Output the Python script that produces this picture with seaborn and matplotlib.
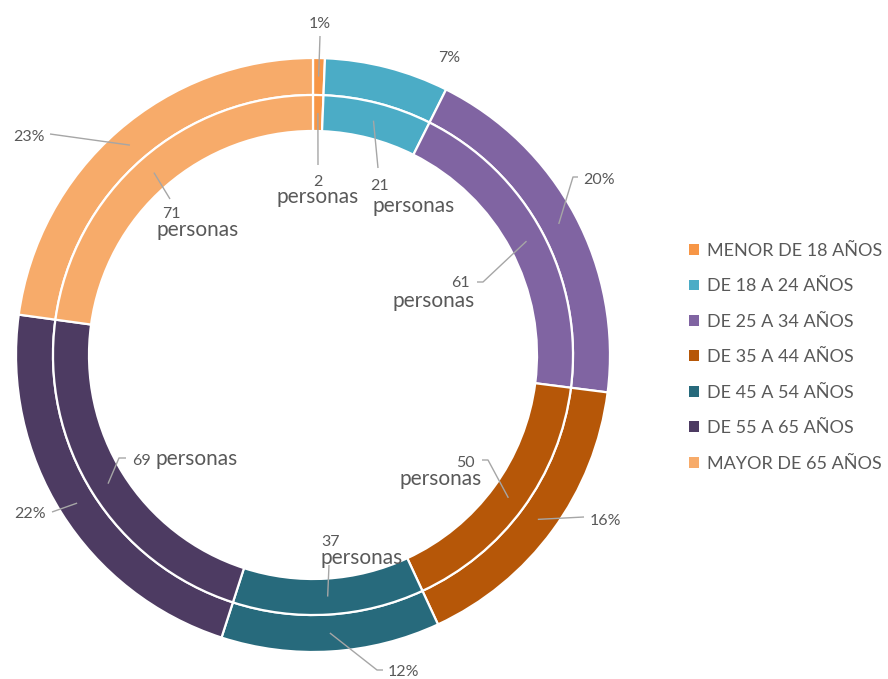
import matplotlib
matplotlib.use("Agg")
import matplotlib.pyplot as plt
import matplotlib.patches as mpatches
import numpy as np
import seaborn as sns

# Data
categories = ["MENOR DE 18 AÑOS", "DE 18 A 24 AÑOS", "DE 25 A 34 AÑOS",
              "DE 35 A 44 AÑOS", "DE 45 A 54 AÑOS", "DE 55 A 65 AÑOS",
              "MAYOR DE 65 AÑOS"]
personas = [2, 21, 61, 50, 37, 69, 71]
hex_colors = ["#F79646", "#4BACC6", "#8064A2", "#B65708",
              "#276A7C", "#4D3B62", "#F7AB6A"]

sns.set_theme(style="white")
plt.rcParams["font.family"] = ["Lato", "DejaVu Sans"]
palette = sns.color_palette(hex_colors)

TEXT = "#595959"
LINE = "#A6A6A6"
W, H = 888, 679


def P(x, y):
    """Top-down pixel position -> axes coordinates (y up)."""
    return (x, H - y)


fig = plt.figure(figsize=(W / 100, H / 100), dpi=100)
ax = fig.add_axes([0, 0, 1, 1])

center = P(313, 355)
outer, _ = ax.pie(personas, radius=297, center=center, startangle=90,
                  counterclock=False, colors=palette,
                  wedgeprops=dict(width=37, edgecolor="white", linewidth=1.6))
inner, _ = ax.pie(personas, radius=260, center=center, startangle=90,
                  counterclock=False, colors=palette,
                  wedgeprops=dict(width=36, edgecolor="white", linewidth=1.6))
ax.set_xlim(0, W)
ax.set_ylim(0, H)
ax.set_aspect("auto")
ax.axis("off")


def anchor(w):
    ang = np.deg2rad((w.theta1 + w.theta2) / 2)
    r = w.r - w.width / 2
    return (w.center[0] + r * np.cos(ang), w.center[1] + r * np.sin(ang))


def leader(w, path):
    pts = [anchor(w)] + [P(*p) for p in path]
    xs, ys = zip(*pts)
    ax.plot(xs, ys, color=LINE, lw=1.0, solid_capstyle="butt", zorder=3)


total = sum(personas)

# Percentage labels on the outer ring: (text pos, ha, leader path from ring)
pct_layout = [
    ((320, 28), "center", [(320, 36)]),
    ((449, 62), "center", None),
    ((583, 184), "left", [(573, 177), (578, 177)]),
    ((590, 525), "left", [(584, 517)]),
    ((388, 676), "left", [(377, 670), (383, 670)]),
    ((46, 518), "right", [(52, 512)]),
    ((45, 141), "right", [(50, 134)]),
]
for w, v, (pos, ha, path) in zip(outer, personas, pct_layout):
    ax.text(*P(*pos), f"{round(100 * v / total)}%", ha=ha, va="baseline",
            fontsize=11.5, color=TEXT, zorder=4)
    if path:
        leader(w, path)

# Count labels on the inner ring: number pos, "personas" pos, ha, leader path
cnt_layout = [
    ((318, 186), (318, 203), "center", "center", [(318, 165)]),
    ((370, 190), (372, 212), "left", "left", [(378, 168)]),
    ((470, 287), (475, 307), "right", "right", [(483, 282), (477, 282)]),
    ((475, 467), (482, 485), "right", "right", [(488, 460), (482, 460)]),
    ((321, 546), (320, 564), "left", "left", [(329, 565)]),
    ((132, 465), (155, 465), "left", "left", [(119, 458), (126, 458)]),
    ((162, 218), (156, 236), "left", "left", [(170, 199)]),
]
for w, v, (npos, ppos, nha, pha, path) in zip(inner, personas, cnt_layout):
    ax.text(*P(*npos), f"{v}", ha=nha, va="baseline",
            fontsize=11.5, color=TEXT, zorder=4)
    ax.text(*P(*ppos), "personas", ha=pha, va="baseline",
            fontsize=15, color=TEXT, zorder=4)
    leader(w, path)

handles = [mpatches.Patch(facecolor=c, edgecolor="none") for c in palette]
fig.legend(handles, categories, loc="upper left",
           bbox_to_anchor=(689 / W, 1 - 243 / H), frameon=False,
           fontsize=13, labelcolor=TEXT, handlelength=0.55, handleheight=0.55,
           handletextpad=0.44, labelspacing=1.075, borderpad=0, borderaxespad=0)

fig.savefig("out.png", dpi=100, facecolor="white")
